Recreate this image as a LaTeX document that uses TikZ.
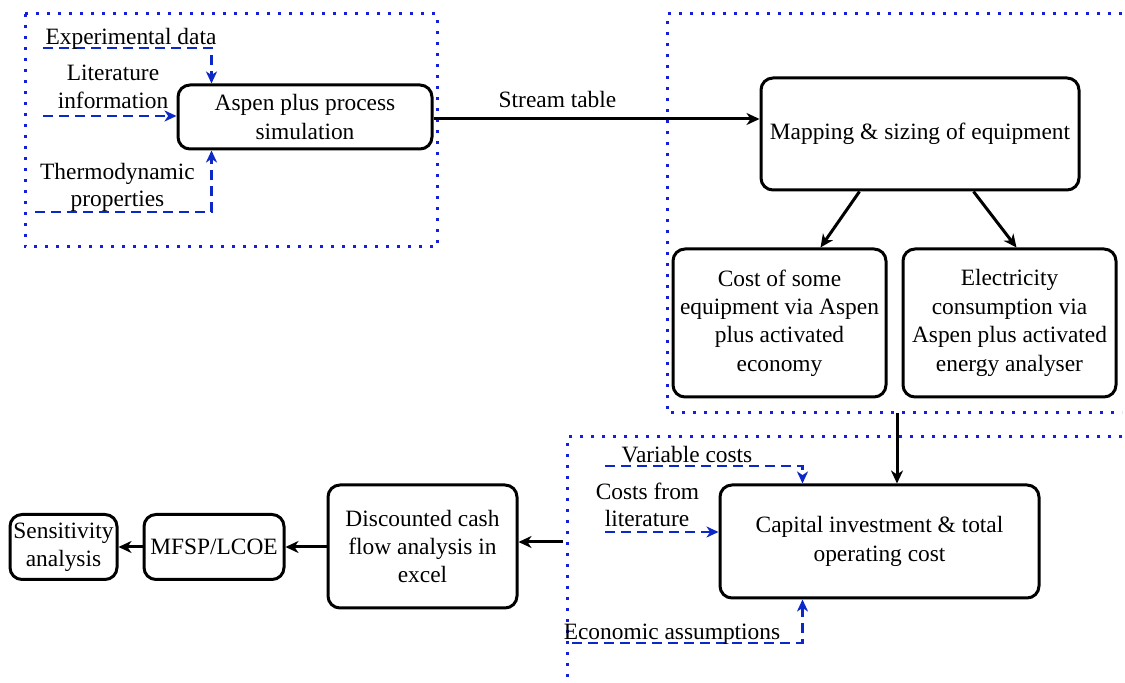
\documentclass[tikz,border=0pt]{standalone}
\usepackage{fontspec}
\setmainfont{Liberation Serif}
\usetikzlibrary{arrows.meta,calc}
\definecolor{dblue}{RGB}{12,40,200}
\definecolor{dotblue}{RGB}{20,30,220}
\begin{document}
\begin{tikzpicture}[x=0.5pt,y=-0.5pt,
  txt/.style={font=\fontsize{11.7}{14.2}\selectfont},
  box/.style={txt,draw,line width=1.5pt,rounded corners=6pt,align=center,inner sep=0pt},
  lbl/.style={txt,align=center,inner sep=0pt},
  flow/.style={line width=1.5pt,-{Stealth[length=6.5pt,width=6pt,inset=2pt]}},
  inp/.style={dblue,line width=1.4pt,dash pattern=on 5pt off 3pt,-{Stealth[length=6pt,width=5.5pt,inset=1.8pt]}},
  region/.style={dotblue,line width=1.5pt,dash pattern=on 1.5pt off 4pt}
]
\useasboundingbox (0,0) rectangle (1125,683);

% regions
\draw[region] (25,14) rectangle (437,247);
\draw[region] (1122,14) -- (667,14) -- (667,413) -- (1122,413);
\draw[region] (1122,437) -- (567,437) -- (567,683);

% boxes
\node[box,minimum width=127pt,minimum height=32pt] (aspen) at (305,117) {Aspen plus process\\simulation};
\node[box,minimum width=159pt,minimum height=56pt] (map) at (920,134) {Mapping \& sizing of equipment};
\node[box,minimum width=106.5pt,minimum height=74pt] (cost) at (779.5,323) {Cost of some\\equipment via Aspen\\plus activated\\economy};
\node[box,minimum width=106.5pt,minimum height=74pt] (elec) at (1009.5,323) {Electricity\\consumption via\\Aspen plus activated\\energy analyser};
\node[box,minimum width=159.5pt,minimum height=56.5pt] (cap) at (879.5,541.5) {Capital investment \& total\\operating cost};
\node[box,minimum width=94.5pt,minimum height=61.5pt] (disc) at (422.5,546.5) {Discounted cash\\flow analysis in\\excel};
\node[box,minimum width=70pt,minimum height=32.5pt] (mfsp) at (214,547) {MFSP/LCOE};
\node[box,minimum width=53.5pt,minimum height=32.5pt] (sens) at (63.5,547) {Sensitivity\\analysis};

% black flows
\coordinate (s0) at ($(aspen.east)+(0,2)$);
\draw[flow] (s0) -- (s0 -| map.west);
\node[lbl,anchor=base] (st) at (557.5,108) {Stream table};
\draw[flow] ($(map.south west)+(100,0)$) -- ($(cost.north west)+(149,0)$);
\draw[flow] ($(map.south west)+(214,0)$) -- ($(elec.north west)+(115,0)$);
\coordinate (c1) at (897,413);
\draw[flow] (c1) -- (c1 |- cap.north);
\coordinate (c2) at (563,542);
\draw[flow] (c2) -- (c2 -| disc.east);
\draw[flow] (disc.west |- mfsp.east) -- (mfsp.east);
\draw[flow] (mfsp.west) -- (sens.east);

% blue inputs
\coordinate (e0) at (43,48);
\draw[inp] (e0) -| ($(aspen.north west)+(35,0)$);
\node[lbl,anchor=base] (le) at (131,45) {Experimental data};
\coordinate (l0) at (43,116);
\draw[inp] (l0) -- (l0 -| aspen.west);
\node[lbl,anchor=base] (ll1) at (113,81) {Literature};
\node[lbl,anchor=base] (ll2) at (113,109) {information};
\coordinate (t0) at (35,212);
\draw[inp] (t0) -| ($(aspen.south west)+(35,0)$);
\node[lbl,anchor=base] (lt1) at (117.5,180) {Thermodynamic};
\node[lbl,anchor=base] (lt2) at (117.5,207) {properties};

\coordinate (v0) at (605,466);
\draw[inp] (v0) -| ($(cap.north west)+(84,0)$);
\node[lbl,anchor=base] (lv) at (687,463) {Variable costs};
\coordinate (k0) at (605,532);
\draw[inp] (k0) -- (k0 -| cap.west);
\node[lbl,anchor=base] (lk1) at (647.5,500) {Costs from};
\node[lbl,anchor=base] (lk2) at (647,527) {literature};
\coordinate (a0) at (572,643);
\draw[inp] (a0) -| ($(cap.south west)+(84,0)$);
\node[lbl,anchor=base] (la) at (672,640) {Economic assumptions};
\end{tikzpicture}
\end{document}
